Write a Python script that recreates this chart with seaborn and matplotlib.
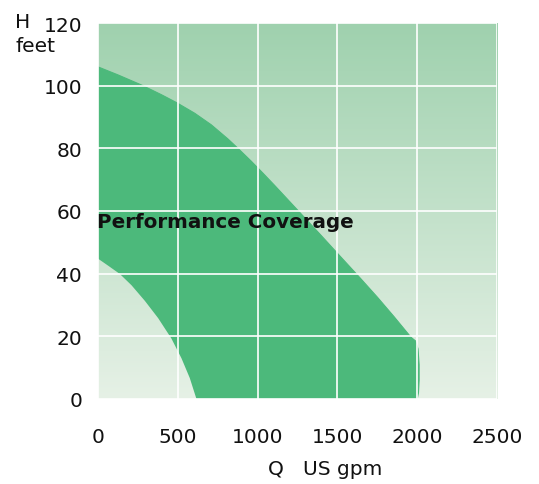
import numpy as np
import pandas as pd
import matplotlib
matplotlib.use("Agg")
import matplotlib.pyplot as plt
from matplotlib.colors import LinearSegmentedColormap
import seaborn as sns

# outer limit of the coverage area (Q in US gpm, H in feet)
outer_q = [0, 127, 273, 398, 492, 606, 710, 814, 877, 960, 1033, 1106, 1190, 1294,
           1398, 1502, 1648, 1752, 1856, 1961, 1990, 2005, 2012, 2012, 2008, 2000]
outer_h = [106, 103.4, 100.2, 97.1, 94.6, 91.2, 87.5, 83.0, 80.0, 75.9, 72.1, 68.2, 63.6, 57.9,
           52.2, 46.4, 38.3, 32.4, 26.2, 19.7, 18.5, 16, 11, 6, 2, 0]
# inner limit
inner_q = [0, 65, 137, 210, 294, 377, 460, 523, 575, 617]
inner_h = [44.8, 42.5, 39.9, 36.3, 31.3, 25.8, 19.3, 13.0, 6.7, 0]

x_ticks = [0, 500, 1000, 1500, 2000, 2500]
y_ticks = [0, 20, 40, 60, 80, 100, 120]

sns.set_style("white")
plt.rcParams['font.family'] = ['DejaVu Sans']

fig = plt.figure(figsize=(5.39, 4.85), dpi=100)
ax = fig.add_axes([0.1818, 0.1753, 0.7403, 0.7752])

# background gradient, darker at the top
grad = LinearSegmentedColormap.from_list("bg", ["#e6f1e6", "#9fd1ae"])
ax.imshow(np.linspace(0, 1, 256).reshape(-1, 1)[::-1], extent=[0, 2500, 0, 120],
          aspect='auto', cmap=grad, zorder=0, interpolation='bilinear')

# coverage polygon: outer curve down to the axis, back up along inner curve
poly_q = outer_q + inner_q[::-1]
poly_h = outer_h + inner_h[::-1]
ax.fill(poly_q, poly_h, color="#4cb97b", lw=0, zorder=1)

df_out = pd.DataFrame({'Q': outer_q, 'H': outer_h})
df_in = pd.DataFrame({'Q': inner_q, 'H': inner_h})
sns.lineplot(data=df_out, x='Q', y='H', sort=False, estimator=None, color="#4cb97b", lw=0.8, ax=ax, zorder=2)
sns.lineplot(data=df_in, x='Q', y='H', sort=False, estimator=None, color="#4cb97b", lw=0.0, ax=ax, zorder=2)

ax.set_xlim(0, 2500)
ax.set_ylim(0, 120)
ax.set_xticks(x_ticks)
ax.set_yticks(y_ticks)
ax.grid(True, color='white', lw=1.2)
ax.set_axisbelow(False)
for s in ax.spines.values():
    s.set_visible(False)
ax.tick_params(axis='both', length=0, labelsize=14.5, colors='#111111')
ax.tick_params(axis='x', pad=20)
ax.tick_params(axis='y', pad=11.5)
ax.set_xlabel('')
ax.set_ylabel('')

fig.text(15 / 539, 1 - 22 / 485, 'H', fontsize=14.5, va='center', ha='left', color='#111111')
fig.text(15 / 539, 1 - 47 / 485, 'feet', fontsize=14.5, va='center', ha='left', color='#111111')
fig.text(325 / 539, 1 - 470 / 485, 'Q   US gpm', fontsize=14.5, va='center', ha='center', color='#111111')

ax.text(-5, 56.8, 'Performance Coverage', fontsize=14.3, fontweight='bold',
        va='center', ha='left', color='#111111', zorder=5)

fig.savefig("out.png", dpi=100)
